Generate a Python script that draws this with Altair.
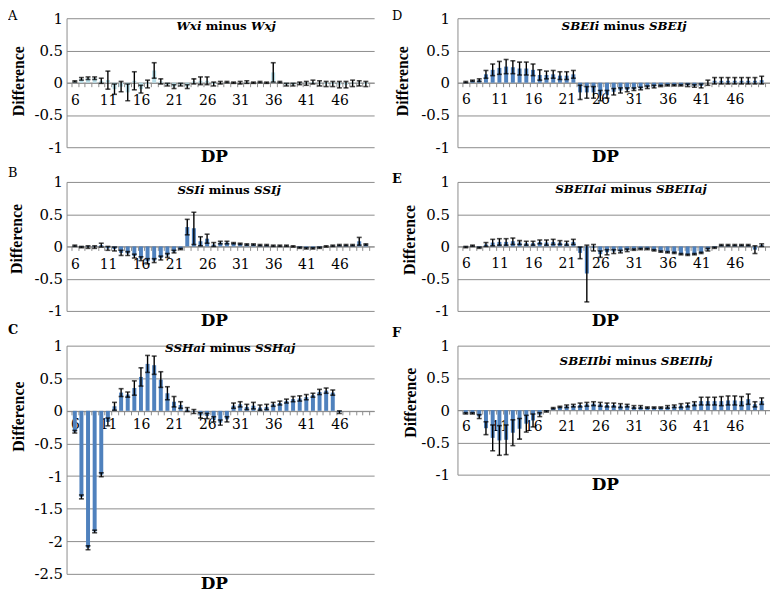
import altair as alt
import pandas as pd

dp = list(range(6, 51))
label_dps = [6, 11, 16, 21, 26, 31, 36, 41, 46]

# A: Wxi minus Wxj
wx_mean = [0.02, 0.06, 0.07, 0.07, 0.03, 0.04, -0.10, -0.06, -0.15, 0.03, -0.10, -0.02, 0.19, 0.02, -0.03,
           -0.06, -0.03, -0.06, 0.02, 0.03, 0.03, -0.02, 0.00, 0.01, 0.00, 0.00, 0.01, 0.00, 0.01, 0.00,
           0.16, 0.01, -0.03, -0.03, -0.01, -0.01, 0.01, -0.01, -0.02, -0.02, -0.03, -0.03, -0.01, -0.01, -0.02]
wx_err = [0.01, 0.02, 0.02, 0.02, 0.04, 0.14, 0.08, 0.08, 0.13, 0.14, 0.06, 0.06, 0.12, 0.04, 0.02,
          0.03, 0.02, 0.03, 0.04, 0.06, 0.06, 0.03, 0.02, 0.01, 0.01, 0.02, 0.02, 0.01, 0.01, 0.01,
          0.15, 0.01, 0.02, 0.02, 0.02, 0.03, 0.03, 0.04, 0.04, 0.04, 0.05, 0.05, 0.05, 0.04, 0.04]

# B: SSIi minus SSIj
ssi_mean = [0.01, -0.01, -0.01, -0.01, 0.02, -0.03, -0.04, -0.10, -0.11, -0.15, -0.19, -0.23, -0.22, -0.18, -0.14,
            -0.08, -0.04, 0.30, 0.28, 0.08, 0.12, 0.03, 0.06, 0.06, 0.05, 0.04, 0.03, 0.03, 0.02, 0.02,
            0.01, 0.01, 0.01, 0.00, -0.02, -0.03, -0.03, -0.02, 0.00, 0.01, 0.02, 0.02, 0.02, 0.08, 0.03]
ssi_err = [0.01, 0.01, 0.02, 0.02, 0.03, 0.03, 0.03, 0.04, 0.03, 0.03, 0.03, 0.04, 0.03, 0.03, 0.03,
           0.02, 0.01, 0.12, 0.25, 0.07, 0.07, 0.03, 0.02, 0.02, 0.01, 0.01, 0.01, 0.01, 0.01, 0.01,
           0.01, 0.01, 0.01, 0.01, 0.01, 0.01, 0.01, 0.01, 0.01, 0.01, 0.01, 0.01, 0.01, 0.06, 0.01]

# C: SSHai minus SSHaj
ssha_mean = [-0.32, -1.32, -2.10, -1.85, -0.98, -0.17, 0.07, 0.28, 0.25, 0.35, 0.52, 0.72, 0.70, 0.48, 0.27,
             0.14, 0.09, 0.02, -0.01, -0.07, -0.08, -0.13, -0.18, -0.13, 0.08, 0.10, 0.06, 0.08, 0.05, 0.06,
             0.10, 0.12, 0.15, 0.18, 0.19, 0.21, 0.24, 0.29, 0.31, 0.28, -0.02, None, None, None, None]
ssha_err = [0.02, 0.03, 0.03, 0.02, 0.03, 0.06, 0.06, 0.06, 0.04, 0.11, 0.14, 0.13, 0.14, 0.12, 0.10,
            0.08, 0.05, 0.03, 0.03, 0.04, 0.04, 0.04, 0.04, 0.04, 0.04, 0.04, 0.04, 0.05, 0.04, 0.04,
            0.03, 0.03, 0.03, 0.04, 0.04, 0.04, 0.03, 0.04, 0.04, 0.04, 0.02, None, None, None, None]

# D: SBEIi minus SBEIj
sbei_mean = [0.01, 0.03, 0.04, 0.13, 0.20, 0.23, 0.25, 0.24, 0.22, 0.22, 0.20, 0.12, 0.12, 0.13, 0.11,
             0.11, 0.13, -0.15, -0.15, -0.15, -0.20, -0.18, -0.14, -0.12, -0.11, -0.10, -0.09, -0.07, -0.06, -0.05,
             -0.04, -0.04, -0.04, -0.04, -0.05, -0.05, 0.00, 0.03, 0.03, 0.03, 0.03, 0.03, 0.03, 0.03, 0.04]
sbei_err = [0.01, 0.01, 0.02, 0.06, 0.09, 0.10, 0.11, 0.10, 0.10, 0.10, 0.09, 0.08, 0.06, 0.06, 0.06,
            0.06, 0.06, 0.11, 0.09, 0.09, 0.08, 0.06, 0.05, 0.04, 0.03, 0.02, 0.02, 0.02, 0.02, 0.01,
            0.01, 0.01, 0.01, 0.02, 0.02, 0.03, 0.04, 0.05, 0.05, 0.05, 0.05, 0.05, 0.05, 0.05, 0.06]

# E: SBEIIai minus SBEIIaj
sbeiia_mean = [-0.01, 0.01, -0.02, 0.03, 0.06, 0.07, 0.07, 0.08, 0.06, 0.05, 0.05, 0.07, 0.06, 0.07, 0.06,
               0.05, 0.07, -0.10, -0.42, -0.02, -0.12, -0.09, -0.08, -0.08, -0.06, -0.05, -0.04, -0.04, -0.06, -0.08,
               -0.09, -0.10, -0.12, -0.13, -0.12, -0.10, -0.05, -0.02, 0.02, 0.02, 0.02, 0.02, 0.02, -0.05, 0.02]
sbeiia_err = [0.01, 0.01, 0.01, 0.03, 0.05, 0.05, 0.05, 0.05, 0.03, 0.03, 0.03, 0.03, 0.04, 0.04, 0.03,
              0.03, 0.04, 0.09, 0.44, 0.05, 0.05, 0.04, 0.03, 0.02, 0.02, 0.01, 0.01, 0.01, 0.01, 0.01,
              0.01, 0.01, 0.01, 0.01, 0.01, 0.01, 0.02, 0.01, 0.01, 0.01, 0.01, 0.01, 0.01, 0.06, 0.02]

# F: SBEIIbi minus SBEIIbj
sbeiib_mean = [-0.05, -0.05, -0.10, -0.28, -0.43, -0.47, -0.46, -0.35, -0.29, -0.21, -0.16, -0.07, -0.02, 0.03, 0.05,
               0.06, 0.07, 0.08, 0.09, 0.10, 0.09, 0.08, 0.08, 0.07, 0.07, 0.05, 0.05, 0.04, 0.04, 0.04,
               0.05, 0.06, 0.07, 0.08, 0.10, 0.14, 0.14, 0.14, 0.14, 0.15, 0.15, 0.14, 0.17, 0.09, 0.14]
sbeiib_err = [0.01, 0.01, 0.03, 0.10, 0.20, 0.23, 0.23, 0.20, 0.16, 0.13, 0.10, 0.03, 0.01, 0.01, 0.01,
              0.02, 0.02, 0.03, 0.03, 0.03, 0.03, 0.03, 0.03, 0.03, 0.02, 0.02, 0.02, 0.01, 0.01, 0.01,
              0.02, 0.02, 0.03, 0.03, 0.03, 0.06, 0.06, 0.06, 0.07, 0.07, 0.07, 0.07, 0.08, 0.04, 0.05]

GRID = "#8c8c8c"
BLUE = "#4F81BD"
PALE = "#B7DEE8"
SERIF_W = "DejaVu Serif"
SERIF = "Liberation Serif"


def txt(text, x, y, **kw):
    return alt.Chart(alt.Data(values=[{"t": text}])).mark_text(**kw).encode(
        text="t:N", x=alt.value(x), y=alt.value(y))


def panel(mean, err, letter, letter_bold, t_left, t_right, color, ymin, height, width,
          t_cx, t_cy, l_x, l_y, yt_x, yt_y, ylab_pad, xlab_pad):
    df = pd.DataFrame({"dp": dp, "mean": mean, "err": err}).dropna()
    df["lo"] = df["mean"] - df["err"]
    df["hi"] = df["mean"] + df["err"]
    cat_w = width / len(dp)
    edges = [d - 0.5 for d in dp] + [dp[-1] + 0.5]
    yvals = [ymin + 0.5 * i for i in range(int(round((1 - ymin) / 0.5)) + 1)]
    xs = alt.Scale(domain=[edges[0], edges[-1]], nice=False, zero=False)
    ys = alt.Scale(domain=[ymin, 1], nice=False)
    zero_off = -height * (0 - ymin) / (1 - ymin)
    xaxis = alt.Axis(orient="bottom", offset=zero_off, values=edges, tickSize=4, tickColor=GRID,
                     domainColor=GRID, grid=False, title=None,
                     labelExpr="indexof(%s, datum.value + 0.5) >= 0 ? toString(datum.value + 0.5) : ''" % label_dps,
                     labelOffset=cat_w / 2, labelOverlap=False, labelFlush=False,
                     labelFont=SERIF_W, labelFontSize=14, labelColor="black", labelPadding=xlab_pad)
    yaxis = alt.Axis(values=yvals, labelExpr="toString(datum.value)", grid=True, gridColor=GRID,
                     domainColor=GRID, ticks=False, labelFont=SERIF_W, labelFontSize=15,
                     labelColor="black", labelPadding=ylab_pad, title="Difference", titleFont=SERIF,
                     titleFontSize=16, titleFontWeight="bold", titleColor="black", titleX=yt_x,
                     titleY=yt_y, titleAngle=270, titleAlign="center", titleBaseline="middle")
    X = alt.X("dp:Q", scale=xs, axis=xaxis)
    base = alt.Chart(df)
    bars = base.mark_bar(size=4, color=color).encode(
        x=X, y=alt.Y("mean:Q", scale=ys, axis=yaxis))
    rule = base.mark_rule(color="black", strokeWidth=1.4).encode(
        x=X, y=alt.Y("lo:Q", scale=ys, axis=yaxis), y2="hi:Q")
    cap_lo = base.mark_tick(color="black", orient="horizontal", size=5, thickness=1.6).encode(
        x=X, y=alt.Y("lo:Q", scale=ys, axis=yaxis))
    cap_hi = base.mark_tick(color="black", orient="horizontal", size=5, thickness=1.6).encode(
        x=X, y=alt.Y("hi:Q", scale=ys, axis=yaxis))
    gap = 25
    layers = [
        bars, rule, cap_lo, cap_hi,
        txt(letter, l_x, l_y, align="left", baseline="top", font=SERIF_W, fontSize=13,
            fontWeight="bold" if letter_bold else "normal", color="black"),
        txt(t_left, t_cx - gap, t_cy, align="right", baseline="middle", font=SERIF_W, fontSize=12,
            fontWeight="bold", fontStyle="italic", color="black"),
        txt("minus", t_cx, t_cy, align="center", baseline="middle", font=SERIF_W, fontSize=12,
            fontWeight="bold", color="black"),
        txt(t_right, t_cx + gap, t_cy, align="left", baseline="middle", font=SERIF_W, fontSize=12,
            fontWeight="bold", fontStyle="italic", color="black"),
        txt("DP", 149, height + 2, align="center", baseline="top", font=SERIF_W, fontSize=17,
            fontWeight="bold", color="black"),
    ]
    return alt.layer(*layers).properties(width=width, height=height)


A = panel(wx_mean, wx_err, "A", False, "Wxi", "Wxj", PALE, -1, 130, 310, 161, 8, -59, -8, -48, 63, 4, 7)
B = panel(ssi_mean, ssi_err, "B", False, "SSIi", "SSIj", BLUE, -1, 130, 310, 164, 8, -59, -15, -50, 57, 4, 7)
C = panel(ssha_mean, ssha_err, "C", True, "SSHai", "SSHaj", BLUE, -2.5, 230, 310, 165, 2, -59, -22, -48, 71, 4, 3)
D = panel(sbei_mean, sbei_err, "D", False, "SBEIi", "SBEIj", BLUE, -1, 130, 315, 168, 8, -66, -8, -55, 63, 8, 6)
E = panel(sbeiia_mean, sbeiia_err, "E", True, "SBEIIai", "SBEIIaj", BLUE, -1, 130, 315, 175, 7, -66, -9, -48, 58, 8, 6)
F = panel(sbeiib_mean, sbeiib_err, "F", True, "SBEIIbi", "SBEIIbj", BLUE, -1, 130, 315, 180, 16, -66, -19, -47, 57, 8, 6)

chart = alt.concat(A, D, B, E, C, F, columns=2, spacing={"row": 35, "column": 84}, bounds="flush").properties(
    padding=0).configure_view(strokeWidth=0)

chart.save("out.html", embed_options={"renderer": "svg", "actions": False})
